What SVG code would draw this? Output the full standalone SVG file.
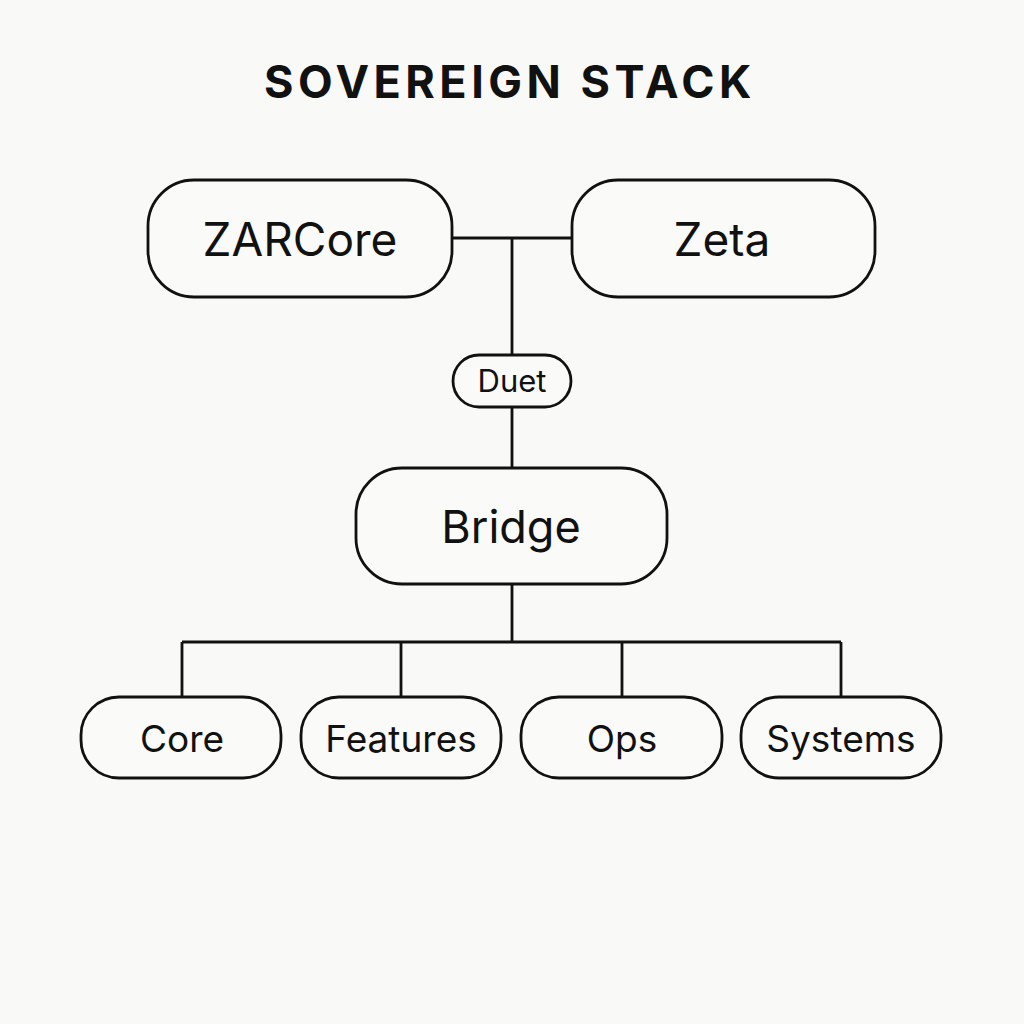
<svg xmlns="http://www.w3.org/2000/svg" width="1024" height="1024" viewBox="0 0 1024 1024">
<style>
.node rect{fill:#fafaf8;stroke:#111;stroke-width:2.8}
.node text{font-family:"Inter","Liberation Sans",sans-serif;fill:#111;text-anchor:middle}
#connectors path{fill:none;stroke:#111;stroke-width:2.8}
.title{font-family:"Inter","Liberation Sans",sans-serif;font-weight:700;font-size:45px;letter-spacing:4.5px;fill:#111;text-anchor:middle}
</style>
<rect width="1024" height="1024" fill="#f9f9f7"/>
<text class="title" x="510" y="98">SOVEREIGN STACK</text>
<g id="connectors">
<path d="M452 238H572M512 238V355M512 407V468M512 584V642M182 642H841M182 642V697M401 642V697M622 642V697M841 642V697"/>
</g>
<g id="zarcore" class="node"><rect x="148" y="180" width="304" height="117" rx="46"/><text x="300" y="256" font-size="46">ZARCore</text></g>
<g id="zeta" class="node"><rect x="572" y="180" width="303" height="117" rx="46"/><text x="722" y="256" font-size="46">Zeta</text></g>
<g id="duet" class="node"><rect x="453" y="355" width="118" height="52" rx="26"/><text x="512" y="392" font-size="31">Duet</text></g>
<g id="bridge" class="node"><rect x="356" y="468" width="311" height="116" rx="46"/><text x="511" y="543" font-size="45">Bridge</text></g>
<g id="core" class="node"><rect x="81" y="697" width="200" height="81" rx="38"/><text x="182" y="752" font-size="37">Core</text></g>
<g id="features" class="node"><rect x="301" y="697" width="200" height="81" rx="38"/><text x="401" y="752" font-size="37">Features</text></g>
<g id="ops" class="node"><rect x="521" y="697" width="201" height="81" rx="38"/><text x="622" y="752" font-size="37">Ops</text></g>
<g id="systems" class="node"><rect x="741" y="697" width="200" height="81" rx="38"/><text x="841" y="752" font-size="37">Systems</text></g>
</svg>
